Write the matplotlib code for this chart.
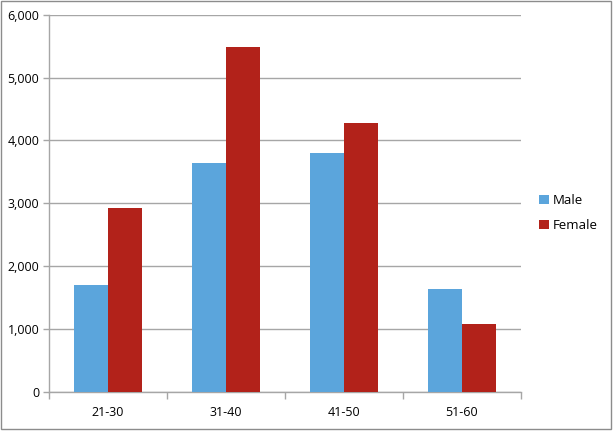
import numpy as np
import matplotlib
matplotlib.use("Agg")
import matplotlib.pyplot as plt
from matplotlib.patches import Rectangle
from matplotlib.ticker import FuncFormatter

# Data
age_groups = ["21-30", "31-40", "41-50", "51-60"]
male = [1700, 3640, 3800, 1640]
female = [2920, 5490, 4280, 1070]
y_ticks = [0, 1000, 2000, 3000, 4000, 5000, 6000]

blue = "#5BA5DC"
red = "#B2221A"
grid_col = "#A6A6A6"

plt.rcParams["font.family"] = ["Open Sans", "DejaVu Sans"]

fig = plt.figure(figsize=(6.15, 4.37), dpi=100)
ax = fig.add_axes([49 / 615, 1 - 391.7 / 437, 472 / 615, 377 / 437])

# outer chart border
fig.patches.append(Rectangle((0.5 / 615, 1 - 428.5 / 437), 610 / 615, 428 / 437,
                             transform=fig.transFigure, fill=False,
                             edgecolor="#8C8C8C", linewidth=1))

x = np.arange(len(age_groups))
w = 0.29
ax.bar(x - w / 2, male, w, color=blue, label="Male", zorder=3)
ax.bar(x + w / 2, female, w, color=red, label="Female", zorder=3)

ax.set_xlim(-0.5, len(age_groups) - 0.5)
ax.set_ylim(0, 6000)
ax.set_yticks(y_ticks)
ax.yaxis.set_major_formatter(FuncFormatter(lambda v, p: f"{int(v):,}"))
ax.set_xticks(x)
ax.set_xticklabels(age_groups)
ax.set_xticks(np.arange(-0.5, len(age_groups)), minor=True)
ax.tick_params(axis="x", which="major", length=0, pad=10, labelsize=9)
ax.tick_params(axis="x", which="minor", length=5, color=grid_col, width=1)
ax.tick_params(axis="y", length=4, color=grid_col, width=1, pad=3, labelsize=9)

ax.grid(axis="y", color=grid_col, linewidth=1, zorder=0)
for s in ["top", "right"]:
    ax.spines[s].set_visible(False)
for s in ["left", "bottom"]:
    ax.spines[s].set_color(grid_col)
    ax.spines[s].set_linewidth(1)

ax.legend(loc="center left", bbox_to_anchor=(1.025, 0.473), frameon=False,
          fontsize=9.5, handlelength=0.7, handleheight=0.7, handletextpad=0.3,
          labelspacing=0.9, borderpad=0)

fig.savefig("out.png", dpi=100)
